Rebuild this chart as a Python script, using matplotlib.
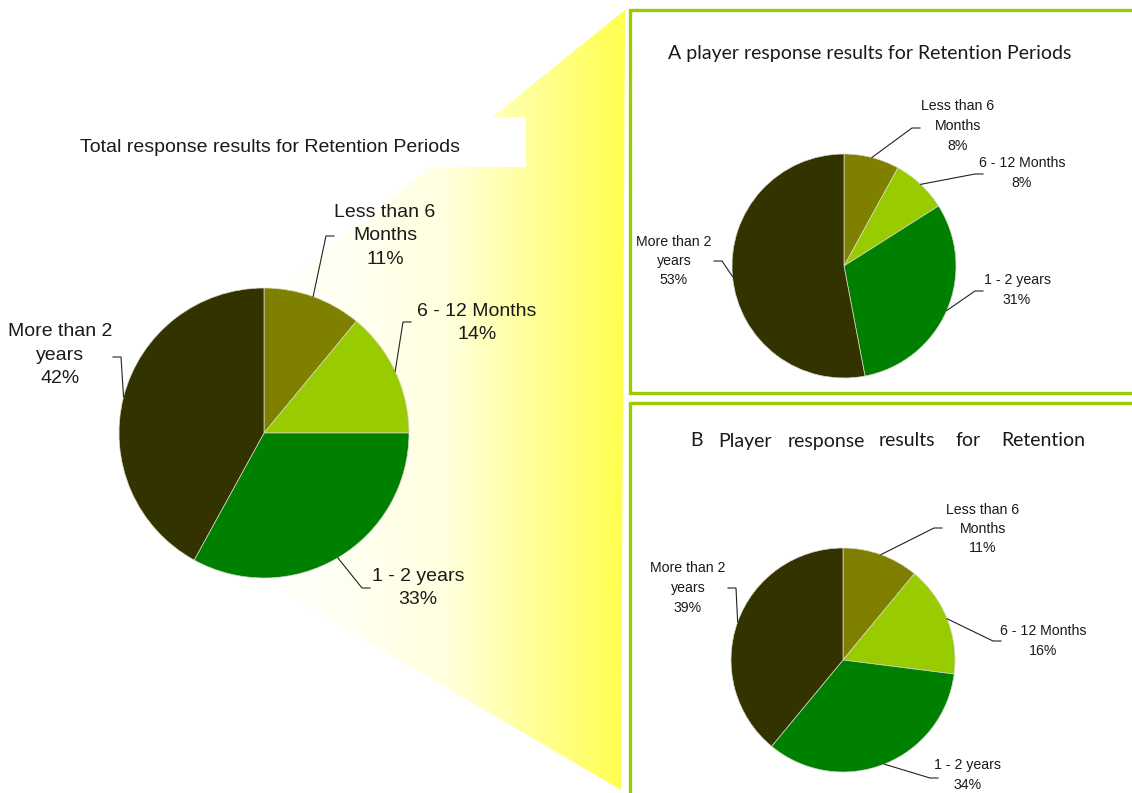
import numpy as np
import matplotlib
matplotlib.use("Agg")
import matplotlib.pyplot as plt
from matplotlib.patches import Polygon, Rectangle
from matplotlib.colors import LinearSegmentedColormap

W, H = 1132, 793

# retention periods and the share of answers for each group
categories = ["Less than 6\nMonths", "6 - 12 Months", "1 - 2 years", "More than 2\nyears"]
total_pct = [11, 14, 33, 42]
player_a_pct = [8, 8, 31, 53]
player_b_pct = [11, 16, 34, 39]

slice_colors = ["#808000", "#99cc00", "#008000", "#333300"]
border_green = "#99cc00"
text_col = "#1a1a1a"

fig = plt.figure(figsize=(W / 100, H / 100), dpi=100)
fig.patch.set_facecolor("white")

# background layer in pixel units (y grows downwards)
bg = fig.add_axes([0, 0, 1, 1], zorder=0)
bg.set_xlim(0, W)
bg.set_ylim(H, 0)
bg.axis("off")

# zoom wedge with white -> yellow gradient
wedge_pts = [(625, 10), (621, 790), (264, 581), (264, 301)]
zoom_poly = Polygon(wedge_pts, closed=True, facecolor="none", edgecolor="none")
bg.add_patch(zoom_poly)
grad = np.linspace(0, 1, 256).reshape(1, -1)
cmap = LinearSegmentedColormap.from_list("wy", ["#ffffff", "#ffffe0", "#ffff4d"])
im = bg.imshow(grad, cmap=cmap, extent=[264, 625, 790, 10], aspect="auto", zorder=1)
im.set_clip_path(zoom_poly)

# white box behind the left title
bg.add_patch(Rectangle((60, 117), 466, 50, facecolor="white", edgecolor="none", zorder=2))
bg.text(80, 147, "Total response results for Retention Periods", fontsize=14,
        family="Liberation Sans", color=text_col, va="center", ha="left", zorder=3)

# framed panels on the right
for (y0, y1) in [(10, 393), (403, 805)]:
    bg.add_patch(Rectangle((630, y0), 520, y1 - y0, facecolor="white",
                           edgecolor=border_green, linewidth=2.4, zorder=2))

bg.text(870, 54, "A player response results for Retention Periods", fontsize=14,
        family="Lato", color=text_col, va="center", ha="center", zorder=4)

b_words = ["B", "Player", "response", "results", "for", "Retention"]
b_x = [690, 718, 788, 879, 955, 1001]
for wx, wd in zip(b_x, b_words):
    bg.text(wx, 441, wd, fontsize=14, family="Lato", color=text_col,
            va="center", ha="left", zorder=3)

# overlay for leader lines and labels
top = fig.add_axes([0, 0, 1, 1], zorder=5)
top.set_xlim(0, W)
top.set_ylim(H, 0)
top.axis("off")
top.patch.set_alpha(0)


def draw_pie(values, cx, cy, r, labels_xy, elbows, fsize, lsp, side):
    ax = fig.add_axes([(cx - r) / W, 1 - (cy + r) / H, 2 * r / W, 2 * r / H], zorder=3)
    wedges, _ = ax.pie(values, colors=slice_colors, startangle=90, counterclock=False,
                       radius=1, wedgeprops=dict(edgecolor="#d8d8c8", linewidth=0.5))
    ax.set_xlim(-1, 1)
    ax.set_ylim(-1, 1)
    ax.set_aspect("equal")
    ax.axis("off")
    for w, cat, v, (tx, ty), (ex, ey), s in zip(wedges, categories, values,
                                               labels_xy, elbows, side):
        mid = np.deg2rad((w.theta1 + w.theta2) / 2)
        ax_x = cx + r * np.cos(mid)
        ax_y = cy - r * np.sin(mid)
        top.plot([ax_x, ex, ex + 8 * s], [ax_y, ey, ey], color="#222222", lw=0.8)
        top.text(tx, ty, f"{cat}\n{v}%", fontsize=fsize, family="Liberation Sans",
                 color=text_col, ha="center", va="center", linespacing=lsp)


# left pie
draw_pie(total_pct, 264, 433, 145,
         labels_xy=[(385, 236), (477, 323), (418, 588), (60, 355)],
         elbows=[(326, 236), (403, 322), (362, 588), (121, 357)],
         fsize=14, lsp=1.5, side=[1, 1, 1, -1])

# top-right pie
draw_pie(player_a_pct, 844, 266, 112,
         labels_xy=[(958, 126), (1022, 173), (1017, 290), (674, 261)],
         elbows=[(912, 128), (975, 174), (975, 291), (722, 261)],
         fsize=10.2, lsp=1.5, side=[1, 1, 1, -1])

# bottom-right pie
draw_pie(player_b_pct, 843, 660, 112,
         labels_xy=[(983, 529), (1043, 641), (968, 775), (688, 588)],
         elbows=[(934, 528), (993, 641), (930, 778), (736, 588)],
         fsize=10.2, lsp=1.5, side=[1, 1, 1, -1])

fig.savefig("out.png", dpi=100)
